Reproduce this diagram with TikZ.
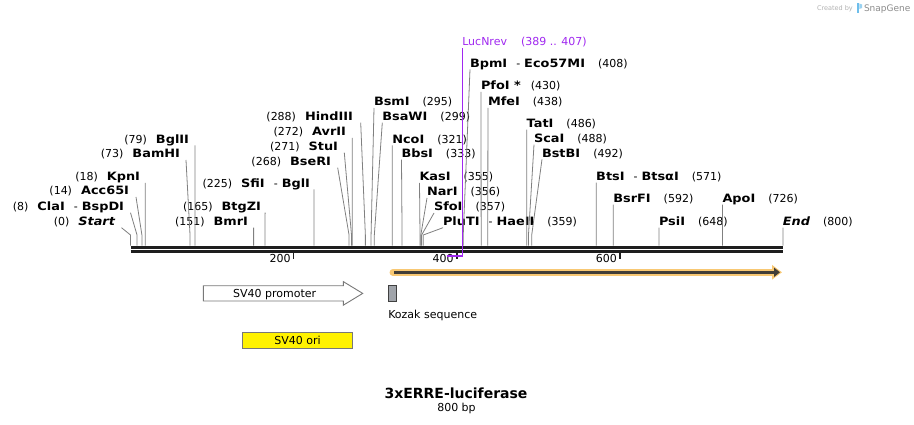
\documentclass[tikz,border=0pt]{standalone}
\usepackage{fontspec}
\setmainfont{DejaVu Sans}
\newfontfamily\enzfam{DejaVu Sans}[FakeStretch=1.12]
\usetikzlibrary{calc,positioning,arrows.meta}
\newcommand{\ErreMapScale}{0.8155}
\newcommand{\ErreNumGap}{\hspace{9pt}}
\newcommand{\ErrePosGap}{\hspace{13pt}}
\newcommand{\ErreDash}{\hspace{9pt}-\hspace{4pt}}
\newcommand{\EnzName}[1]{{\enzfam\fontsize{11.5}{13}\selectfont\bfseries #1}}
\definecolor{cutgray}{RGB}{128,128,128}
\definecolor{backbone}{RGB}{30,30,30}
\definecolor{lucpurple}{RGB}{160,40,240}
\definecolor{lucorange}{RGB}{248,200,115}
\definecolor{lucdark}{RGB}{66,62,55}
\definecolor{kozakgray}{RGB}{160,164,170}
\definecolor{featline}{RGB}{120,120,120}
\definecolor{sgblue}{RGB}{110,190,235}
\tikzset{
	enz/.style={inner sep=0pt, outer sep=0pt, font=\fontsize{11}{13}\selectfont},
	cutline/.style={draw=cutgray, line width=0.8pt},
	tickmark/.style={draw=backbone, line width=1.6pt},
	primer/.style={draw=lucpurple, line width=1.3pt},
}

\begin{document}
\begin{tikzpicture}[x=1pt, y=-1pt]
		\useasboundingbox[fill=white] (0,0) rectangle (914,425);
		\coordinate (knee) at (0,235);
		\foreach \cutname/\cutpos in {start/0,cla/8,acc/14,kpn/18,bam/73,bglii/79,bmr/151,btg/165,sfi/225,bse/268,stu/271,avr/272,hind/288,bsm/295,bsa/299,nco/321,bbs/333,kas/355,nar/356,sfo/357,plu/359,bpm/408,pfo/430,mfe/438,tat/486,sca/488,bst/492,bts/571,bsr/592,psi/648,apo/726,end/800}
			\coordinate (c\cutname) at ({130.5+\ErreMapScale*\cutpos},245.7);
		\foreach \tickpos in {200,400,600}
			\coordinate (t\tickpos) at ({130.5+\ErreMapScale*\tickpos},252);

		\node[enz, anchor=base east] (start) at (115,225.7) {(0)\ErreNumGap\EnzName{\itshape Start}};
		\node[enz, anchor=base east] (cla) at (124,210.7) {(8)\ErreNumGap\EnzName{ClaI}\ErreDash\EnzName{BspDI}};
		\node[enz, anchor=base east] (acc) at (129,195) {(14)\ErreNumGap\EnzName{Acc65I}};
		\node[enz, anchor=base east] (kpn) at (140,181) {(18)\ErreNumGap\EnzName{KpnI}};
		\node[enz, anchor=base east] (bam) at (180,158) {(73)\ErreNumGap\EnzName{BamHI}};
		\node[enz, anchor=base east] (bglii) at (189,143.3) {(79)\ErreNumGap\EnzName{BglII}};
		\node[enz, anchor=base east] (bmr) at (248,225.7) {(151)\ErreNumGap\EnzName{BmrI}};
		\node[enz, anchor=base east] (btg) at (261,210.7) {(165)\ErreNumGap\EnzName{BtgZI}};
		\node[enz, anchor=base east] (sfi) at (310,187.5) {(225)\ErreNumGap\EnzName{SfiI}\ErreDash\EnzName{BglI}};
		\node[enz, anchor=base east] (bse) at (331,165.7) {(268)\ErreNumGap\EnzName{BseRI}};
		\node[enz, anchor=base east] (stu) at (338,150.7) {(271)\ErreNumGap\EnzName{StuI}};
		\node[enz, anchor=base east] (avr) at (346,136) {(272)\ErreNumGap\EnzName{AvrII}};
		\node[enz, anchor=base east] (hind) at (353,120.7) {(288)\ErreNumGap\EnzName{HindIII}};

		\node[enz, anchor=base west] (bsm) at (374,106) {\EnzName{BsmI}\ErrePosGap(295)};
		\node[enz, anchor=base west] (bsa) at (382.3,120.7) {\EnzName{BsaWI}\ErrePosGap(299)};
		\node[enz, anchor=base west] (nco) at (392.3,143.3) {\EnzName{NcoI}\ErrePosGap(321)};
		\node[enz, anchor=base west] (bbs) at (401.5,157.7) {\EnzName{BbsI}\ErrePosGap(333)};
		\node[enz, anchor=base west] (kas) at (419.5,181) {\EnzName{KasI}\ErrePosGap(355)};
		\node[enz, anchor=base west] (nar) at (427,196) {\EnzName{NarI}\ErrePosGap(356)};
		\node[enz, anchor=base west] (sfo) at (434,211) {\EnzName{SfoI}\ErrePosGap(357)};
		\node[enz, anchor=base west] (plu) at (443,225.7) {\EnzName{PluTI}\ErreDash\EnzName{HaeII}\ErrePosGap(359)};
		\node[enz, anchor=base west] (bpm) at (470,67.3) {\EnzName{BpmI}\ErreDash\EnzName{Eco57MI}\ErrePosGap(408)};
		\node[enz, anchor=base west] (pfo) at (481,90) {\EnzName{PfoI *}\hspace{10pt}(430)};
		\node[enz, anchor=base west] (mfe) at (488,106) {\EnzName{MfeI}\ErrePosGap(438)};
		\node[enz, anchor=base west] (tat) at (526.7,127.7) {\EnzName{TatI}\ErrePosGap(486)};
		\node[enz, anchor=base west] (sca) at (534,142.7) {\EnzName{ScaI}\ErrePosGap(488)};
		\node[enz, anchor=base west] (bst) at (542,157.3) {\EnzName{BstBI}\ErrePosGap(492)};
		\node[enz, anchor=base west] (bts) at (596.2,180.7) {\EnzName{BtsI}\ErreDash\EnzName{BtsαI}\ErrePosGap(571)};
		\node[enz, anchor=base west] (bsr) at (613.3,202.7) {\EnzName{BsrFI}\ErrePosGap(592)};
		\node[enz, anchor=base west] (psi) at (659,225.7) {\EnzName{PsiI}\ErrePosGap(648)};
		\node[enz, anchor=base west] (apo) at (722.5,202.7) {\EnzName{ApoI}\ErrePosGap(726)};
		\node[enz, anchor=base west] (end) at (782.9,225.7) {\EnzName{\itshape End}\ErrePosGap(800)};

		\foreach \lname/\ldx in {start/6.5,cla/6.5,acc/7,kpn/5.2,bam/6,bglii/5.9,bmr/5.6,btg/4.1,sfi/4,bse/6.7,stu/6.3,avr/6.3,hind/7.7}
			\draw[cutline] ($(\lname.base east)+(\ldx,2)$) -- (c\lname |- knee) -- (c\lname);
		\foreach \rname in {bsm,bsa,nco,bbs,kas,nar,sfo,plu,bpm,pfo,mfe,tat,sca,bst,bts,bsr,psi,apo,end}
			\draw[cutline] ($(\rname.base west)+(0,2)$) -- (c\rname |- knee) -- (c\rname);

		\draw[draw=backbone, line width=3pt] ($(cstart)+(0,1.5)$) -- ($(cend)+(0,1.5)$);
		\draw[draw=backbone, line width=2.7pt] ($(cstart)+(0,5.6)$) -- ($(cend)+(0,5.6)$);
		\foreach \tickpos in {200,400,600} {
			\draw[tickmark] (t\tickpos) -- ++(0,7);
			\node[enz, anchor=base east] (l\tickpos) at ($(t\tickpos)+(-3,10.5)$) {\tickpos};
		}

		\node[enz, anchor=base west, text=lucpurple] (lucnrev) at (462.3,45.7) {LucNrev\hspace{14pt}(389 .. 407)};
		\coordinate (lucend) at (446.7,256);
		\draw[primer] ($(lucnrev.base west)+(0,2.8)$) |- (lucend);

		\coordinate (lucstart) at (393,272.3);
		\coordinate (luctip) at (780,272.3);
		\draw[draw=lucorange, line width=7pt, line cap=round, -{Triangle[length=10pt,width=14pt]}] (lucstart) -- ($(luctip)+(2,0)$);
		\draw[draw=lucdark, line width=3pt, -{Triangle[length=6pt,width=9pt]}] ($(lucstart)+(1,0)$) -- (luctip);

		\draw[draw=featline, fill=white, line width=0.9pt] (203.3,285.7) -- (343.3,285.7) -- (343.3,281.6) -- (362.7,293.4) -- (343.3,305.2) -- (343.3,301) -- (203.3,301) -- cycle;
		\node[enz, anchor=base] (sv40prom) at (274.7,297.3) {SV40 promoter};
		\draw[draw=darkgray, fill=kozakgray, line width=0.8pt] (388.3,285) rectangle (396.7,301.7);
		\node[enz, anchor=base west] (kozak) at (388.3,318.3) {Kozak sequence};
		\draw[draw=featline, fill=yellow, line width=0.9pt] (242.3,332.3) rectangle (352.7,348.3);
		\node[enz, anchor=base] (sv40ori) at (297.5,344.3) {SV40 ori};

		\node[enz, anchor=base, font=\fontsize{14}{16}\selectfont\bfseries] (title) at (456,398.3) {3xERRE-luciferase};
		\node[enz, anchor=base] (size) at (456.5,411.7) {800 bp};

		\node[enz, anchor=base west, text=black!30, font=\fontsize{6.5}{8}\selectfont] (created) at (817,11) {Created by};
		\fill[sgblue] (857,3.5) rectangle (859.3,13);
		\fill[sgblue!70] (859.3,3.5) -- (862,4.5) -- (862,8) -- (859.3,9) -- cycle;
		\node[enz, anchor=base west, text=black!45, font=\fontsize{9}{10}\selectfont] (snapgene) at (864,11.5) {SnapGene};
\end{tikzpicture}
\end{document}
